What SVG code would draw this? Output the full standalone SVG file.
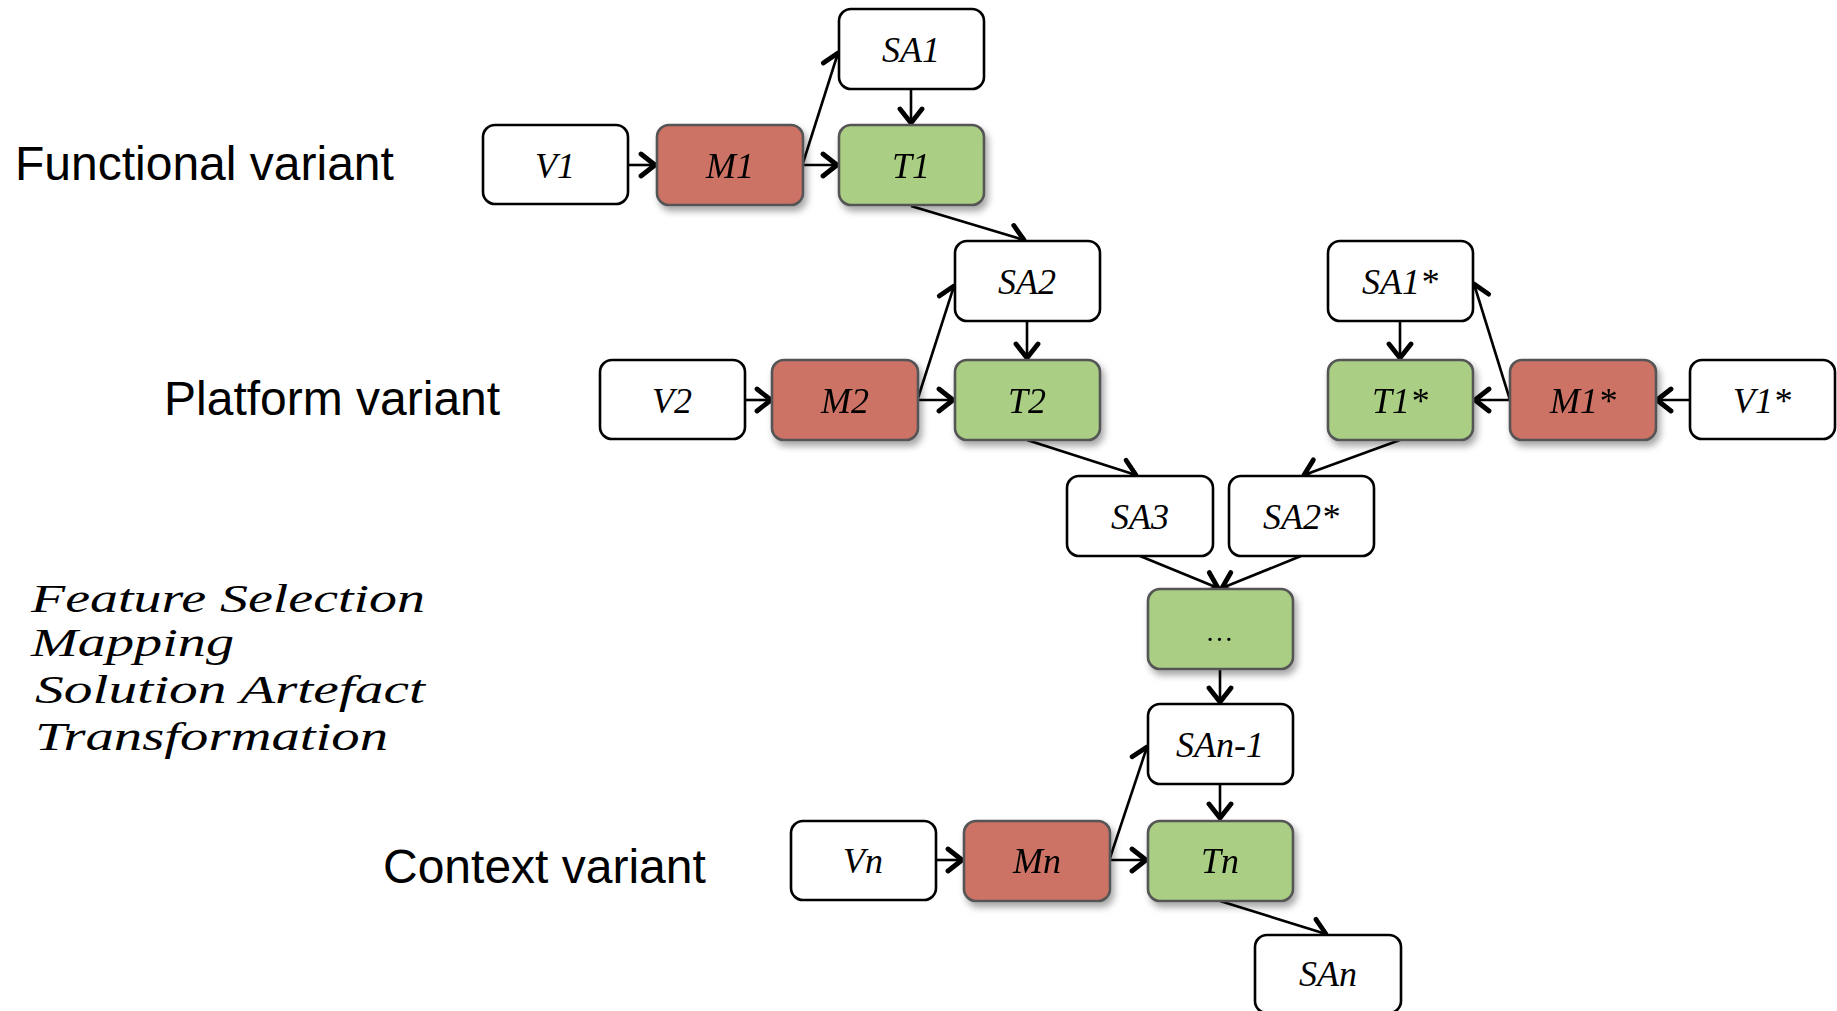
<svg xmlns="http://www.w3.org/2000/svg" width="1837" height="1011" viewBox="0 0 1837 1011">
<style>
.w rect{fill:#fff;stroke:#000;stroke-width:2.6}
.r rect{fill:#CD7366;stroke:#555;stroke-width:2.6}
.g rect{fill:#AACE84;stroke:#555;stroke-width:2.6}
.n text{font-family:"Liberation Serif","DejaVu Serif",serif;font-style:italic;font-size:36px;text-anchor:middle;fill:#000}
.lbl{font-family:"Liberation Sans",Arial,sans-serif;font-size:48px;fill:#000}
.leg{font-family:"Liberation Serif","DejaVu Serif",serif;font-style:italic;font-size:40px;fill:#000}
#edges line{stroke:#000;stroke-width:2.6;fill:none;marker-end:url(#ah)}
</style>
<defs>
<filter id="sh" x="-20%" y="-20%" width="150%" height="160%">
<feDropShadow dx="3" dy="5" stdDeviation="3.5" flood-color="#000" flood-opacity="0.35"/>
</filter>
<marker id="ah" markerUnits="userSpaceOnUse" viewBox="-18 -14 21 28" refX="0" refY="0" markerWidth="21" markerHeight="28" orient="auto">
<path d="M-14,-11 L0,0 L-14,11" fill="none" stroke="#000" stroke-width="4.8" stroke-linecap="round" stroke-linejoin="round"/>
</marker>
</defs>
<rect width="1837" height="1011" fill="#fff"/>

<text class="lbl" x="15" y="180">Functional variant</text>
<text class="lbl" x="164" y="415">Platform variant</text>
<text class="lbl" x="383" y="883">Context variant</text>

<g id="legend">
<text class="leg" x="31" y="612" textLength="394" lengthAdjust="spacingAndGlyphs">Feature Selection</text>
<text class="leg" x="31" y="656" textLength="203" lengthAdjust="spacingAndGlyphs">Mapping</text>
<text class="leg" x="35" y="703" textLength="390" lengthAdjust="spacingAndGlyphs">Solution Artefact</text>
<text class="leg" x="35" y="750" textLength="353" lengthAdjust="spacingAndGlyphs">Transformation</text>
</g>

<g id="edges">
<line x1="628" y1="165" x2="655" y2="165"/>
<line x1="803" y1="165" x2="837" y2="165"/>
<line x1="803" y1="163" x2="838" y2="53"/>
<line x1="911" y1="90" x2="911" y2="123"/>
<line x1="911" y1="206" x2="1024" y2="240"/>
<line x1="745" y1="400" x2="771" y2="400"/>
<line x1="918" y1="400" x2="953" y2="400"/>
<line x1="918" y1="398" x2="954" y2="286"/>
<line x1="1027" y1="321" x2="1027" y2="358"/>
<line x1="1027" y1="440" x2="1136" y2="475"/>
<line x1="1690" y1="400" x2="1657" y2="400"/>
<line x1="1510" y1="400" x2="1475" y2="400"/>
<line x1="1510" y1="400" x2="1474" y2="284"/>
<line x1="1400" y1="321" x2="1400" y2="358"/>
<line x1="1400" y1="440" x2="1304" y2="475"/>
<line x1="1140" y1="556" x2="1218" y2="588"/>
<line x1="1301" y1="556" x2="1222" y2="588"/>
<line x1="1220" y1="669" x2="1220" y2="702"/>
<line x1="936" y1="860" x2="962" y2="860"/>
<line x1="1110" y1="860" x2="1146" y2="860"/>
<line x1="1110" y1="858" x2="1147" y2="747"/>
<line x1="1220" y1="785" x2="1220" y2="818"/>
<line x1="1220" y1="901" x2="1326" y2="934"/>
</g>

<g id="SA1" class="n w"><rect x="839" y="9" width="145" height="80" rx="12"/><text x="911" y="62">SA1</text></g>
<g id="V1" class="n w"><rect x="483" y="125" width="145" height="79" rx="12"/><text x="555" y="178">V1</text></g>
<g id="M1" class="n r" filter="url(#sh)"><rect x="657" y="125" width="146" height="80" rx="12"/><text x="730" y="178">M1</text></g>
<g id="T1" class="n g" filter="url(#sh)"><rect x="839" y="125" width="145" height="80" rx="12"/><text x="911" y="178">T1</text></g>

<g id="SA2" class="n w"><rect x="955" y="241" width="145" height="80" rx="12"/><text x="1027" y="294">SA2</text></g>
<g id="V2" class="n w"><rect x="600" y="360" width="145" height="79" rx="12"/><text x="672" y="413">V2</text></g>
<g id="M2" class="n r" filter="url(#sh)"><rect x="772" y="360" width="146" height="80" rx="12"/><text x="845" y="413">M2</text></g>
<g id="T2" class="n g" filter="url(#sh)"><rect x="955" y="360" width="145" height="80" rx="12"/><text x="1027" y="413">T2</text></g>

<g id="SA1s" class="n w"><rect x="1328" y="241" width="145" height="80" rx="12"/><text x="1400" y="294">SA1*</text></g>
<g id="T1s" class="n g" filter="url(#sh)"><rect x="1328" y="360" width="145" height="80" rx="12"/><text x="1400" y="413">T1*</text></g>
<g id="M1s" class="n r" filter="url(#sh)"><rect x="1510" y="360" width="146" height="80" rx="12"/><text x="1583" y="413">M1*</text></g>
<g id="V1s" class="n w"><rect x="1690" y="360" width="145" height="79" rx="12"/><text x="1762" y="413">V1*</text></g>

<g id="SA3" class="n w"><rect x="1067" y="476" width="146" height="80" rx="12"/><text x="1140" y="529">SA3</text></g>
<g id="SA2s" class="n w"><rect x="1229" y="476" width="145" height="80" rx="12"/><text x="1301" y="529">SA2*</text></g>
<g id="dots" class="n g" filter="url(#sh)"><rect x="1148" y="589" width="145" height="80" rx="12"/><text x="1220" y="641" style="font-size:28px">…</text></g>
<g id="SAn1" class="n w"><rect x="1148" y="704" width="145" height="80" rx="12"/><text x="1220" y="757">SAn-1</text></g>

<g id="Vn" class="n w"><rect x="791" y="821" width="145" height="79" rx="12"/><text x="863" y="873">Vn</text></g>
<g id="Mn" class="n r" filter="url(#sh)"><rect x="964" y="821" width="146" height="80" rx="12"/><text x="1037" y="873">Mn</text></g>
<g id="Tn" class="n g" filter="url(#sh)"><rect x="1148" y="821" width="145" height="80" rx="12"/><text x="1220" y="873">Tn</text></g>
<g id="SAn" class="n w"><rect x="1255" y="935" width="146" height="78" rx="12"/><text x="1328" y="986">SAn</text></g>
</svg>
